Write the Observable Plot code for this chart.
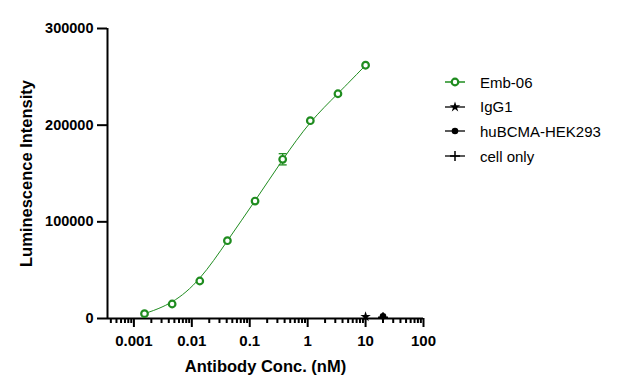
<!DOCTYPE html>
<html><head><meta charset="utf-8">
<script src="https://cdn.jsdelivr.net/npm/d3@7"></script>
<script src="https://cdn.jsdelivr.net/npm/@observablehq/plot@0.6"></script>
<style>
body{margin:0;background:#fff;font-family:"Liberation Sans",Arial,sans-serif;}
#wrap{position:relative;width:622px;height:388px;}
#legend{position:absolute;left:443px;top:70px;}
.row{display:flex;align-items:center;height:24.6px;font-size:15px;color:#000;white-space:nowrap;}
.row svg{margin-right:13px;display:block;}
</style></head><body><div id="wrap"><div id="legend"></div></div><script>
// ---- data ----
const concentrations = [0.001524, 0.004572, 0.01372, 0.04115, 0.1235, 0.3704, 1.111, 3.333, 10];
const emb06 = [5000, 15000, 38800, 80500, 121500, 164700, 204600, 232500, 262000];
const emb06Err = [0, 0, 0, 0, 0, 5800, 0, 0, 0];
const controlNames = ["IgG1", "huBCMA-HEK293", "cell only"];
const controlConc = [10, 20, 20];
const controlValues = [1900, 2200, 1200];
const seriesNames = ["Emb-06", "IgG1", "huBCMA-HEK293", "cell only"];
const xTicks = [0.001, 0.01, 0.1, 1, 10, 100];
const yTicks = [0, 100000, 200000, 300000];
const xTitle = "Antibody Conc. (nM)";
const yTitle = "Luminescence Intensity";

// ---- setup ----
const xDomain = [3.5e-4, 100];
const yDomain = [0, 300000];
const green = "#1f8c1f";
const font = "'Liberation Sans', Arial, sans-serif";

const minorTicks = [];
for (let e = -4; e <= 1; e++) for (let m = 2; m <= 9; m++) {
  const v = m * Math.pow(10, e);
  if (v >= xDomain[0] && v <= xDomain[1]) minorTicks.push(v);
}

const emb = concentrations.map((c, i) => ({c, v: emb06[i], e: emb06Err[i]}));
const errs = emb.filter(d => d.e > 0);
const controls = controlNames.map((n, i) => ({n, c: controlConc[i], v: controlValues[i]}));
const symbolOf = {"IgG1": "star", "huBCMA-HEK293": "circle", "cell only": "plus"};

const cap = {draw(ctx, size) { const w = Math.sqrt(size / Math.PI); ctx.moveTo(-w, 0); ctx.lineTo(w, 0); }};

const chart = Plot.plot({
  width: 622, height: 388,
  marginLeft: 107, marginRight: 199, marginTop: 28, marginBottom: 70,
  style: {fontFamily: font, background: "#fff", color: "#000", overflow: "visible"},
  x: {type: "log", domain: xDomain},
  y: {domain: yDomain},
  marks: [
    Plot.axisX({ticks: minorTicks, tickSize: 5, strokeWidth: 2, tickFormat: () => "", label: null}),
    Plot.axisX({ticks: xTicks, tickSize: 9, tickPadding: 7.5, strokeWidth: 2, tickFormat: d => String(d),
      fontSize: 15, fontWeight: "bold", label: null}),
    Plot.axisY({ticks: yTicks, tickSize: 10, tickPadding: 4, strokeWidth: 2, tickFormat: d => String(d),
      fontSize: 14.5, fontWeight: "bold", label: null}),
    Plot.ruleX([xDomain[0]], {stroke: "#000", strokeWidth: 2}),
    Plot.ruleY([0], {stroke: "#000", strokeWidth: 2}),
    Plot.text([xTitle], {frameAnchor: "bottom", dy: 48, textAnchor: "middle", lineAnchor: "middle", fontSize: 16.5, fontWeight: "bold"}),
    Plot.text([yTitle], {frameAnchor: "left", dx: -81, rotate: -90, textAnchor: "middle", lineAnchor: "middle", fontSize: 16.5, fontWeight: "bold"}),
    Plot.line(emb, {x: "c", y: "v", stroke: green, strokeWidth: 1, curve: "basis"}),
    Plot.ruleX(errs, {x: "c", y1: d => d.v - d.e, y2: d => d.v + d.e, stroke: green, strokeWidth: 1.3}),
    Plot.dot(errs, {x: "c", y: d => d.v - d.e, symbol: cap, r: 4, stroke: green, strokeWidth: 1.3}),
    Plot.dot(errs, {x: "c", y: d => d.v + d.e, symbol: cap, r: 4, stroke: green, strokeWidth: 1.3}),
    Plot.dot(emb, {x: "c", y: "v", r: 3.3, stroke: green, strokeWidth: 2.2, fill: "#fff"}),
    Plot.dot(controls, {x: "c", y: "v", symbol: d => symbolOf[d.n], r: 3.3, fill: d => d.n === "cell only" ? "none" : "#000",
      stroke: d => d.n === "cell only" ? "#000" : "none", strokeWidth: 1.5})
  ]
});
chart.style.position = "absolute";
chart.style.left = "0px";
chart.style.top = "0px";
const wrap = document.getElementById("wrap");
wrap.insertBefore(chart, wrap.firstChild);

// ---- legend ----
const legend = d3.select("#legend");
const legendSym = {"Emb-06": "circle", "IgG1": "star", "huBCMA-HEK293": "circle", "cell only": "plus"};
const d3sym = {circle: d3.symbolCircle, star: d3.symbolStar, plus: d3.symbolPlus};
seriesNames.forEach(name => {
  const row = legend.append("div").attr("class", "row");
  const svg = row.append("svg").attr("width", 24).attr("height", 14);
  const isEmb = name === "Emb-06";
  const col = isEmb ? green : "#000";
  svg.append("line").attr("x1", 2).attr("x2", 22).attr("y1", 7).attr("y2", 7).attr("stroke", col).attr("stroke-width", isEmb ? 1.5 : 1.3);
  const s = legendSym[name];
  const size = Math.PI * 3.3 * 3.3;
  const p = svg.append("path").attr("transform", "translate(12,7)").attr("d", d3.symbol(d3sym[s], size)());
  if (isEmb) p.attr("fill", "#fff").attr("stroke", green).attr("stroke-width", 2.2);
  else if (s === "plus") p.attr("fill", "none").attr("stroke", "#000").attr("stroke-width", 1.5);
  else p.attr("fill", "#000");
  row.append("span").text(name);
});
</script></body></html>
